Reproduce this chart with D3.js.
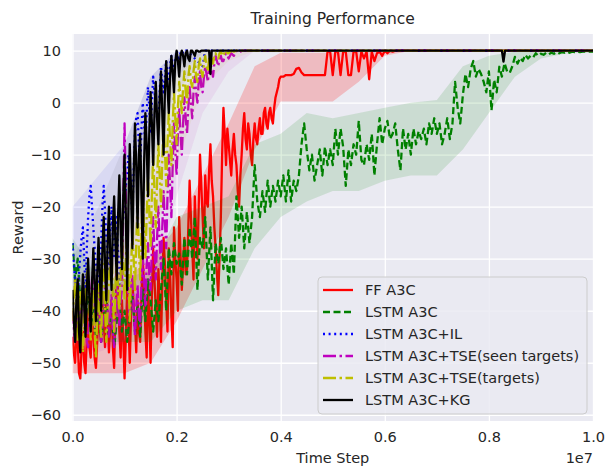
<!DOCTYPE html>
<html>
<head>
<meta charset="utf-8">
<script src="https://cdn.jsdelivr.net/npm/d3@7"></script>
<style>
  body { margin: 0; background: #fff; }
  text { font-family: "DejaVu Sans", sans-serif; fill: #262626; }
</style>
</head>
<body>
<div id="chart"></div>
<script>
// x in units of 1e7; each segment is sampled from x0 every `step`
const BAND_STEP = 0.05;

const xTicks = [0, 0.2, 0.4, 0.6, 0.8, 1.0];
const yTicks = [-60, -50, -40, -30, -20, -10, 0, 10];

// FF A3C: dense part 0..0.4 (step 0.0025), plateau 0.405..0.62 (step 0.005)
const ffA3C = [
  -45, -48, -50, -43, -46, -52, -53, -47, -44, -50, -52, -45, -40, -47, -49, -42, -44, -49, -51, -46,
  -40, -44, -46, -39, -42, -47, -36, -41, -48, -43, -38, -47, -51, -40, -32, -37, -44, -49, -38, -45,
  -53, -45, -36, -42, -50, -41, -34, -39, -42, -48, -38, -44, -46, -37, -30, -36, -44, -49, -35, -41,
  -50, -37, -28, -34, -40, -45, -32, -38, -46, -35, -26, -31, -38, -44, -28, -33, -41, -47, -24, -30,
  -34, -40, -22, -29, -36, -31, -26, -33, -32, -24, -15, -22, -28, -34, -18, -25, -30, -20, -10, -16,
  -22, -28, -14, -19, -20, -13, -8, -15, -18, -24, -28, -33, -37, -30, -22, -10, -1, -6, -12, -5,
  -8, -11, -14, -9, -6, -10, -12, -17, -20, -14, -10, -5, -2, -7, -9, -4, -6, -10, -12, -7,
  -4, -7, -8, -5, -3, -6, -6, -2, -1, -4, -5, -2, -1, -3, -4, -1, 1, 2, 3, 4.5,
  5
];
const ffPlateau = [
  5, 5.3, 5.3, 5.3, 5.5, 6.5, 6.7, 5.8, 5.3,
  5.3, 5.3, 5.3, 5.3, 5.3, 5.3, 5.3, 5.3, 9.8, 9.8,
  5.3, 9.8, 9.8, 5.3, 9.8, 9.8, 5.3, 5.3, 9.8, 9.8,
  6, 9.8, 8.5, 9.8, 4.5, 9.8, 8, 9.5, 9.8, 9,
  10, 9.5, 10, 9.8, 10
];
const ffTail = [[1.0, 10]];
const ffBandHi = [-42, -38, -34, -30, -24, -14, -4, 7, 9.6, 9.6, 9.6, 10, 10, 10];
const ffBandLo = [-52, -52, -52, -50, -42, -32, -22, -9, 0.2, 0.2, 0.2, 4, 9, 10];

// LSTM A3C: step 0.005 over 0..1
const lstmA3C = [
  -27, -34, -30, -38, -35, -42, -37, -44, -39, -45,
  -40, -46, -41, -38, -45, -40, -47, -42, -38, -44,
  -40, -46, -41, -37, -44, -39, -45, -36, -42, -34,
  -38, -44, -38, -42, -36, -30, -40, -28, -33, -27,
  -31, -29, -35, -26, -33, -24, -30, -22, -36, -26,
  -28, -22, -34, -24, -38, -27, -31, -26, -32, -28,
  -35, -27, -33, -18, -26, -20, -28, -21, -27, -22,
  -12, -19, -22, -17, -21, -15, -20, -16, -19, -15,
  -18, -14, -19, -13, -19, -15, -17, -14, -8, -4,
  -9, -13, -10, -15, -12, -9, -14, -8.5, -12, -9,
  -12, -5, -10, -5, -8.5, -16, -9, -12, -8, -10,
  -3.5, -11, -12, -8, -11, -6, -14, -8, -3, -8,
  -5, -3.5, -7, -6, -4, -9, -13, -5, -9, -6,
  -10, -5, -8, -5.5, -7, -5, -8, -4, -6, -3,
  -6, -4, -8, -6, -3, -7, -4, 4, -1, -4,
  1.5, 5.5, 3, 6.5, 8, 5, 6.5, 5.5, 4, 2,
  6, -1.5, 4.4, 2, 6.9, 5, 7.6, 6, 5.7, 7,
  8.8, 7.5, 8.6, 8, 9.2, 8.5, 9, 8.7, 9.5, 9,
  9.4, 9.2, 9.6, 9.3, 9.6, 9.4, 9.7, 9.5, 9.7, 9.6,
  9.8, 9.6, 9.8, 9.7, 9.8, 9.7, 9.8, 9.8, 9.8, 9.8,
  9.8
];
const lstmBandHi = [-26, -34, -34, -32, -22, -20, -18, -8, -6, -2, -3, -2, -1, 0, 0.5, 7, 9, 9.8, 9.9, 9.9, 9.9];
const lstmBandLo = [-36, -46, -46, -46, -40, -38, -38, -28, -22, -19, -17, -17, -15, -14, -14, -9, -2, 5, 8.5, 9.5, 9.6];

// LSTM A3C+IL: step 0.0025 over 0..0.22
const lstmIL = [
  -27, -31, -34, -37, -38, -33, -29, -26, -24, -30, -36, -28, -22, -18, -16, -20, -24, -28, -31, -34,
  -36, -31, -27, -20, -16, -21, -26, -30, -32, -25, -20, -26, -30, -25, -22, -29, -35, -30, -25, -22,
  -20, -16, -14, -10, -12, -17, -22, -13, -6, -3, -2, -8, -12, -5, 0, -4, -8, -2, 3, -1,
  -6, 0, 5, 2, 0, -3, -4, 2, 7, 4, 2, 5, 8, 6, 4, 7, 9, 7.5, 6, 8,
  10, 9, 8, 9.5, 10, 9.5, 9.5, 10, 10
];
const ilTail = [[0.25, 7], [0.255, 10], [1.0, 10]];
const ilBandHi = [-20, -14, -8, 5, 10, 10];
const ilBandLo = [-36, -36, -28, -12, 5, 9.6];

// LSTM A3C+TSE(seen targets): step 0.0025 over 0..0.3
const tseSeen = [
  -40, -44, -46, -41, -37, -42, -45, -39, -35, -40, -42, -46, -47, -41, -37, -34, -32, -38, -43, -39,
  -36, -42, -46, -43, -39, -35, -33, -40, -45, -41, -37, -44, -47, -40, -35, -39, -43, -38, -36, -20,
  -4, -18, -32, -38, -42, -36, -33, -40, -45, -39, -35, -41, -43, -35, -29, -34, -39, -31, -27, -33,
  -36, -28, -22, -29, -34, -26, -20, -27, -32, -24, -17, -23, -28, -18, -10, -16, -22, -12, -4, -9,
  -14, -6, -1, -6, -10, -4, 1, -3, -6, -1, 3, 0, -3, 2, 5, 2, 0, 4, 6, 3,
  2, 5, 7, 5.5, 4, 6.5, 8, 6, 5, 7.5, 9, 8, 7, 8.5, 9, 8, 8, 9, 9.5, 9,
  8.5
];
const seenTail = [[0.305, 9.5], [0.31, 9], [0.315, 10], [0.32, 9.5], [0.325, 10], [1.0, 10]];
const seenBandHi = [-34, -32, -26, -16, 0, 8, 10, 10];
const seenBandLo = [-46, -48, -46, -38, -18, -2, 6, 10];

// LSTM A3C+TSE(targets): step 0.0025 over 0..0.3
const tseTargets = [
  -42, -38, -34, -41, -46, -40, -36, -43, -48, -42, -38, -33, -32, -40, -46, -39, -36, -44, -49, -41,
  -35, -41, -45, -37, -31, -39, -46, -40, -34, -30, -28, -37, -44, -35, -30, -36, -40, -33, -26, -32,
  -38, -30, -24, -33, -42, -32, -25, -30, -36, -27, -20, -28, -34, -25, -18, -24, -30, -22, -14, -21,
  -28, -18, -10, -17, -24, -15, -8, -14, -20, -11, -4, -9, -16, -8, -2, -7, -12, -4, 2, -3,
  -8, -1, 4, 1, -2, 3, 6, 2, 0, 5, 7, 4, 3, 6, 8, 5, 4, 7, 8.5, 6,
  5, 7.5, 9, 7, 6, 8.5, 9.5, 8, 7.5, 9, 9.5, 8.5, 8.5, 9.5, 10, 9.2, 9, 9.8, 10, 9.5,
  9.5
];
const targetsTail = [[0.305, 10], [0.31, 9.8], [0.315, 10], [1.0, 10]];
const targetsBandHi = [-34, -30, -20, -6, 7, 10, 10, 10];
const targetsBandLo = [-48, -46, -40, -28, -12, 3, 8, 10];

// LSTM A3C+KG: step 0.0025 over 0..0.25
const lstmKG = [
  -36, -42, -46, -38, -34, -44, -48, -40, -33, -39, -45, -36, -30, -38, -44, -35, -28, -34, -42, -33,
  -26, -33, -40, -28, -22, -31, -38, -27, -20, -29, -36, -24, -18, -27, -34, -22, -14, -24, -32, -18,
  -10, -22, -36, -20, -8, -17, -28, -14, -4, -12, -24, -10, -6, -18, -30, -12, -2, -8, -18, -6,
  2, -4, -12, -2, 4, -3, -8, 1, 6, -2, -10, 2, 8, 3, -2, 5, 9, 6, 2, 8,
  10, 8, 5, 9, 10, 9, 7, 9.5, 10, 8.5, 8, 10, 10, 9.5, 9, 10, 10, 9.8, 9.8, 10,
  10
];
const kgTail = [[0.2625, 10], [0.265, 5.5], [0.2675, 10], [0.825, 10], [0.828, 7.9], [0.831, 10], [1.0, 10]];
const kgBandHi = [-30, -20, -8, 5, 10, 10, 10];
const kgBandLo = [-46, -42, -34, -14, 2, 8, 10];

const series = [
  { name: 'FF A3C', segs: [[0, 0.0025, ffA3C], [0.405, 0.005, ffPlateau]], tail: ffTail,
    hi: ffBandHi, lo: ffBandLo, color: '#ff0000', dash: null, bandOpacity: 0.2 },
  { name: 'LSTM A3C', segs: [[0, 0.005, lstmA3C]], tail: [],
    hi: lstmBandHi, lo: lstmBandLo, color: '#008000', dash: '7,3.5', bandOpacity: 0.13 },
  { name: 'LSTM A3C+IL', segs: [[0, 0.0025, lstmIL]], tail: ilTail,
    hi: ilBandHi, lo: ilBandLo, color: '#0000ff', dash: '2,3.6', bandOpacity: 0.07 },
  { name: 'LSTM A3C+TSE(seen targets)', segs: [[0, 0.0025, tseSeen]], tail: seenTail,
    hi: seenBandHi, lo: seenBandLo, color: '#bf00bf', dash: '13,3.5,2.5,3.5', bandOpacity: 0.07 },
  { name: 'LSTM A3C+TSE(targets)', segs: [[0, 0.0025, tseTargets]], tail: targetsTail,
    hi: targetsBandHi, lo: targetsBandLo, color: '#bfbf00', dash: '13,3.5,2.5,3.5', bandOpacity: 0.07 },
  { name: 'LSTM A3C+KG', segs: [[0, 0.0025, lstmKG]], tail: kgTail,
    hi: kgBandHi, lo: kgBandLo, color: '#000000', dash: null, bandOpacity: 0.05 }
];

const width = 608, height = 466;
const plot = { left: 72.5, right: 593, top: 34, bottom: 421 };
const FONT = 14.5;

const svg = d3.select('#chart').append('svg')
  .attr('width', width)
  .attr('height', height);

const x = d3.scaleLinear().domain([0, 1]).range([plot.left, plot.right]);
const y = d3.scaleLinear().domain([-61.2, 13.2]).range([plot.bottom, plot.top]);

// Axes background
svg.append('rect')
  .attr('x', plot.left).attr('y', plot.top)
  .attr('width', plot.right - plot.left)
  .attr('height', plot.bottom - plot.top)
  .attr('fill', '#eaeaf2');

// Grid + tick labels
const xAxis = svg.append('g')
  .attr('transform', `translate(0,${plot.bottom})`)
  .call(d3.axisBottom(x).tickValues(xTicks).tickFormat(d3.format('.1f'))
    .tickSize(-(plot.bottom - plot.top)).tickPadding(11));
const yAxis = svg.append('g')
  .attr('transform', `translate(${plot.left},0)`)
  .call(d3.axisLeft(y).tickValues(yTicks).tickFormat(d3.format('d'))
    .tickSize(-(plot.right - plot.left)).tickPadding(11.5));

[xAxis, yAxis].forEach(a => {
  a.select('.domain').remove();
  a.selectAll('line').attr('stroke', '#ffffff').attr('stroke-width', 1.3);
  a.selectAll('text').attr('font-size', FONT).attr('fill', '#262626')
    .style('font-family', '"DejaVu Sans", sans-serif');
});

svg.append('clipPath').attr('id', 'clip')
  .append('rect')
  .attr('x', plot.left).attr('y', plot.top)
  .attr('width', plot.right - plot.left)
  .attr('height', plot.bottom - plot.top);

const g = svg.append('g').attr('clip-path', 'url(#clip)');

const line = d3.line().x(d => x(d[0])).y(d => y(d[1]));
const area = d3.area()
  .x((d, i) => x(i * BAND_STEP))
  .y0(d => y(d[0]))
  .y1(d => y(d[1]));

series.forEach(s => {
  // Std band
  g.append('path')
    .datum(s.lo.map((v, i) => [v, s.hi[i]]))
    .attr('d', area)
    .attr('fill', s.color)
    .attr('opacity', s.bandOpacity);

  // Mean line
  let pts = [];
  s.segs.forEach(([x0, step, vals]) => {
    pts = pts.concat(vals.map((v, i) => [x0 + i * step, v]));
  });
  pts = pts.concat(s.tail);
  g.append('path')
    .datum(pts)
    .attr('d', line)
    .attr('fill', 'none')
    .attr('stroke', s.color)
    .attr('stroke-width', 2.3)
    .attr('stroke-linejoin', 'round')
    .attr('stroke-dasharray', s.dash);
});

// Title and labels
svg.append('text')
  .attr('x', (plot.left + plot.right) / 2).attr('y', 23.5)
  .attr('text-anchor', 'middle').attr('font-size', 15.5)
  .text('Training Performance');

svg.append('text')
  .attr('x', (plot.left + plot.right) / 2).attr('y', 462.5)
  .attr('text-anchor', 'middle').attr('font-size', FONT)
  .text('Time Step');

svg.append('text')
  .attr('x', plot.right).attr('y', 462.5)
  .attr('text-anchor', 'end').attr('font-size', FONT)
  .text('1e7');

svg.append('text')
  .attr('transform', `translate(23,${(plot.top + plot.bottom) / 2}) rotate(-90)`)
  .attr('text-anchor', 'middle').attr('font-size', FONT)
  .text('Reward');

// Legend
const legend = svg.append('g').attr('transform', 'translate(318,277)');
legend.append('rect')
  .attr('width', 269).attr('height', 137).attr('rx', 4)
  .attr('fill', '#eaeaf2').attr('fill-opacity', 0.85)
  .attr('stroke', '#cccccc').attr('stroke-width', 1);

series.forEach((s, i) => {
  const row = legend.append('g').attr('transform', `translate(0,${13 + i * 22})`);
  row.append('line')
    .attr('x1', 5).attr('x2', 35)
    .attr('stroke', s.color).attr('stroke-width', 2.3)
    .attr('stroke-dasharray', s.dash);
  row.append('text')
    .attr('x', 47).attr('dy', '0.35em')
    .attr('font-size', FONT)
    .text(s.name);
});
</script>
</body>
</html>
